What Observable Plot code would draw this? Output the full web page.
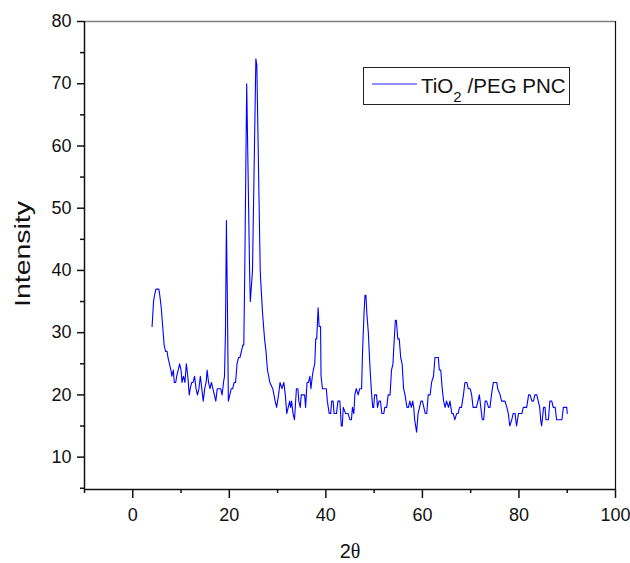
<!DOCTYPE html>
<html>
<head>
<meta charset="utf-8">
<script src="https://cdn.jsdelivr.net/npm/d3@7"></script>
<script src="https://cdn.jsdelivr.net/npm/@observablehq/plot@0.6"></script>
<style>
  html, body { margin: 0; padding: 0; background: #fff; }
  #chart { width: 630px; height: 563px; }
</style>
</head>
<body>
<div id="chart"></div>
<script>
// 2θ positions (degrees)
const twoTheta = [
  4.0,4.3,4.5,4.8,5.4,5.6,5.9,6.2,6.5,6.8,7.1,7.3,7.6,7.9,8.1,8.4,8.6,8.9,9.1,9.4,
  9.7,10.0,10.2,10.5,10.8,11.1,11.4,11.7,11.9,12.2,12.5,12.8,13.1,13.4,13.7,14.0,14.3,14.6,14.9,15.2,
  15.4,15.7,16.0,16.3,16.6,16.9,17.2,17.5,17.9,18.2,18.5,18.8,19.0,19.2,19.4,19.6,19.8,20.1,20.4,20.7,
  21.0,21.3,21.6,21.9,22.2,22.5,22.8,23.0,23.2,23.6,24.2,24.35,24.8,25.5,25.7,26.1,26.4,26.6,26.9,27.3,
  27.6,27.9,28.4,29.0,29.5,29.8,30.2,30.5,30.9,31.3,31.6,31.9,32.2,32.5,32.7,32.9,33.2,33.5,33.9,34.2,
  34.4,34.7,34.9,35.3,35.6,35.8,36.1,36.4,36.7,36.9,37.2,37.4,37.7,37.9,38.1,38.4,38.6,38.9,39.0,39.3,
  39.6,40.1,40.3,40.7,41.0,41.2,41.5,41.7,42.2,42.5,42.9,43.2,43.4,43.6,44.1,44.6,45.0,45.3,45.5,45.8,
  46.0,46.3,46.7,47.0,47.4,47.6,47.9,48.1,48.3,48.5,48.8,49.1,49.4,49.7,49.9,50.1,50.5,50.7,51.0,51.3,
  51.6,52.0,52.2,52.6,52.9,53.3,53.6,53.9,54.1,54.4,54.6,54.9,55.2,55.5,55.8,56.1,56.4,56.8,57.1,57.4,
  57.7,58.0,58.2,58.4,58.8,59.1,59.4,59.7,60.0,60.3,60.6,60.9,61.2,61.6,61.9,62.3,62.6,63.0,63.3,63.5,
  63.8,64.1,64.4,64.7,65.0,65.4,65.7,66.1,66.4,66.7,67.1,67.4,67.7,68.1,68.5,68.8,69.2,69.5,69.9,70.2,
  70.5,71.2,71.5,71.8,72.1,72.4,72.7,73.0,73.3,73.7,74.0,74.3,74.7,75.4,75.6,76.1,76.4,76.8,77.1,77.5,
  77.8,78.1,78.5,78.8,79.2,79.5,79.9,80.6,80.9,81.6,82.0,82.3,82.7,83.0,83.3,83.7,84.0,84.3,84.5,84.7,
  85.1,85.4,85.6,86.1,86.4,86.8,87.1,87.5,87.8,88.9,89.2,89.9,90.0
];
// Intensity values
const intensity = [
  31,35,36,37,37,36,34,31,28,27,27,26,25,24,23,24,22,22,23,24,
  25,24,22,23,22,25,23,20,21,22,22,23,21,20,21,23,21,19,21,22,
  24,22,21,22,21,20,19,21,21,21,20,22,23,30,48,35,19,20,21,21,
  22,22,25,26,26,27,28,28,40,70,40,35,40,74,73,54,40,37,33,29,
  27,24,22,21,19,18,20,22,21,22,20,17,18,19,18,19,17,16,21,21,
  19,18,20,20,20,18,22,22,23,21,23,24,25,29,29,34,31,31,23,21,
  21,21,19,17,17,19,19,17,17,19,19,15,15,18,17,17,16,16,18,17,
  20,21,20,21,21,27,33,36,36,33,30,25,21,18,18,20,20,18,19,19,
  17,17,18,18,20,20,24,25,28,32,32,29,29,26,25,21,20,18,18,19,
  18,19,18,16,14,17,18,19,19,18,17,17,20,20,22,23,26,26,26,24,
  24,21,19,18,19,18,19,17,17,16,17,17,18,18,20,22,22,21,21,20,
  18,18,19,20,18,16,16,19,19,18,18,20,22,22,21,20,19,19,19,18,
  17,15,16,17,17,15,17,17,18,18,20,20,19,19,20,20,19,18,16,15,
  18,18,16,16,19,19,18,18,16,16,18,18,17
];
const xMajorTicks = [0, 20, 40, 60, 80, 100];
const xMinorTicks = [-10, 10, 30, 50, 70, 90];
const yMajorTicks = [10, 20, 30, 40, 50, 60, 70, 80];
const yMinorTicks = [5, 15, 25, 35, 45, 55, 65, 75];
const xLabel = "2θ";
const yLabel = "Intensity";
const seriesName = ["TiO", "2", "/PEG PNC"];

const data = twoTheta.map((t, i) => ({t, v: intensity[i]}));
const font = "'Liberation Sans', Arial, Helvetica, sans-serif";

const chart = Plot.plot({
  width: 630,
  height: 563,
  marginLeft: 84,
  marginRight: 15,
  marginTop: 21,
  marginBottom: 74,
  x: {domain: [-10, 100]},
  y: {domain: [4.8, 80]},
  style: {fontFamily: font, fontSize: "18px", color: "#111", background: "#fff", overflow: "visible"},
  marks: [
    Plot.ruleY([80], {stroke: "#808080", strokeWidth: 1.5}),
    Plot.ruleX([100], {stroke: "#111", strokeWidth: 1.2}),
    Plot.line(data, {x: "t", y: "v", stroke: "#0000ff", strokeWidth: 1.1}),
    Plot.ruleX([-10], {stroke: "#111", strokeWidth: 1.5}),
    Plot.ruleY([4.8], {stroke: "#111", strokeWidth: 1.5}),
    Plot.axisX({ticks: xMajorTicks, tickSize: 9, tickPadding: 10, label: null, tickFormat: d => String(d), strokeWidth: 1.5}),
    Plot.axisX({ticks: xMinorTicks, tickSize: 4, tickFormat: () => "", label: null, strokeWidth: 1.5}),
    Plot.axisY({ticks: yMajorTicks, tickSize: 7, tickPadding: 6, label: null, tickFormat: d => String(d), strokeWidth: 1.5}),
    Plot.axisY({ticks: yMinorTicks, tickSize: 4, tickFormat: () => "", label: null, strokeWidth: 1.5})
  ]
});
document.getElementById("chart").appendChild(chart);

const svg = d3.select(chart);
// axis titles
svg.append("text")
  .attr("transform", "translate(30,254) rotate(-90)")
  .attr("text-anchor", "middle")
  .attr("font-family", font).attr("font-size", 22).attr("fill", "#111")
  .attr("textLength", 106).attr("lengthAdjust", "spacingAndGlyphs")
  .text(yLabel);
const xl = svg.append("text")
  .attr("x", 350).attr("y", 558)
  .attr("text-anchor", "middle")
  .attr("font-size", 20).attr("fill", "#111");
xl.append("tspan").attr("font-family", font).text(xLabel[0]);
xl.append("tspan").attr("font-family", "'Liberation Serif', 'DejaVu Serif', serif").text(xLabel[1]);

// legend
const lg = svg.append("g").attr("text-anchor", "start");
lg.append("rect").attr("x", 363.5).attr("y", 67.5).attr("width", 206).attr("height", 37)
  .attr("fill", "#fff").attr("stroke", "#222").attr("stroke-width", 1);
lg.append("line").attr("x1", 372).attr("x2", 417).attr("y1", 84).attr("y2", 84)
  .attr("stroke", "#6a6aff").attr("stroke-width", 1.5);
const lt = lg.append("text").attr("x", 421).attr("y", 93)
  .attr("text-anchor", "start")
  .attr("font-family", font).attr("font-size", 20.5).attr("fill", "#111");
lt.append("tspan").text(seriesName[0]);
lt.append("tspan").attr("font-size", 15).attr("dy", 9).text(seriesName[1]);
lt.append("tspan").attr("dy", -9).attr("dx", 6).text(seriesName[2]);
</script>
</body>
</html>
